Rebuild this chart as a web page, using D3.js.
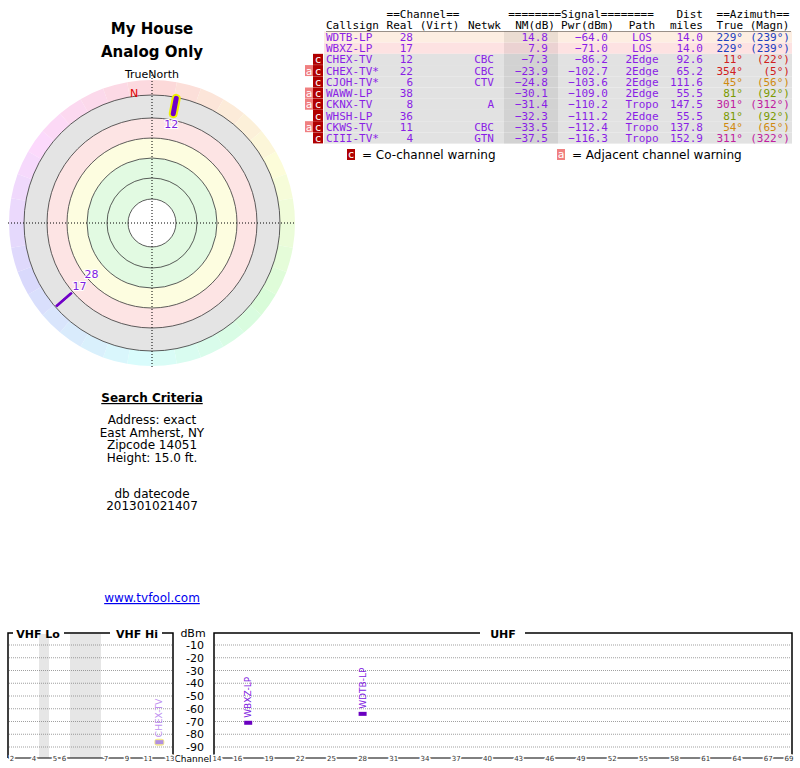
<!DOCTYPE html>
<html><head><meta charset="utf-8">
<script src="https://cdn.jsdelivr.net/npm/d3@7"></script>
<style>
body{margin:0;background:#fff}
svg text{font-family:"DejaVu Sans",sans-serif}
.mono{font-family:"DejaVu Sans Mono",monospace;font-size:11px}
</style></head><body>
<svg id="chart" width="800" height="768"></svg>
<script>
// station table
const callsigns = ["WDTB-LP","WBXZ-LP","CHEX-TV","CHEX-TV*","CJOH-TV*","WAWW-LP","CKNX-TV","WHSH-LP","CKWS-TV","CIII-TV*"];
const realCh = [28,17,12,22,6,38,8,36,11,4];
const networks = ["","","CBC","CBC","CTV","","A","","CBC","GTN"];
const nmDb = [14.8,7.9,-7.3,-23.9,-24.8,-30.1,-31.4,-32.3,-33.5,-37.5];
const pwrDbm = [-64.0,-71.0,-86.2,-102.7,-103.6,-109.0,-110.2,-111.2,-112.4,-116.3];
const paths = ["LOS","LOS","2Edge","2Edge","2Edge","2Edge","Tropo","2Edge","Tropo","Tropo"];
const distMiles = [14.0,14.0,92.6,65.2,111.6,55.5,147.5,55.5,137.8,152.9];
const azTrue = [229,229,11,354,45,81,301,81,54,311];
const azMagn = [239,239,22,5,56,92,312,92,65,322];
const coWarn = [false,false,true,true,true,true,true,true,true,true];
const adjWarn = [false,false,false,true,false,true,true,false,true,false];
const rowFills = ["#fdeee2","#fde2e2","#e2e2e2","#e2e2e2","#e2e2e2","#e2e2e2","#e2e2e2","#e2e2e2","#e2e2e2","#e2e2e2"];

// spectrum
const dbmTicks = [-10,-20,-30,-40,-50,-60,-70,-80,-90];
const vhfTicks = ["2","4","5","6","7","9","11","13"];
const uhfTicks = [14,16,19,22,25,28,31,34,37,40,43,46,49,52,55,58,61,64,67,69];
const criteria = ["Address: exact","East Amherst, NY","Zipcode 14051","Height: 15.0 ft."];

const svg = d3.select("#chart");

// colour per azimuth
function azColor(a){
  if (a>=200 && a<260) return "#2040c0";
  if (a>=340 || a<30) return "#d02020";
  if (a<70) return "#d08a10";
  if (a<150) return "#7a9a00";
  return "#c020a0";
}

// ---------- titles ----------
svg.append("text").attr("x",152).attr("y",34).attr("text-anchor","middle")
  .attr("font-size",15).attr("font-weight","bold").text("My House");
svg.append("text").attr("x",152).attr("y",57).attr("text-anchor","middle")
  .attr("font-size",15).attr("font-weight","bold").text("Analog Only");
svg.append("text").attr("x",152).attr("y",78).attr("text-anchor","middle")
  .attr("font-size",11).text("TrueNorth");

// ---------- polar plot ----------
const cx=152, cy=223;
const polar = svg.append("g").attr("transform",`translate(${cx},${cy})`);
const arc = d3.arc();
for (let a=0;a<360;a+=10){
  polar.append("path").attr("d",arc({innerRadius:128,outerRadius:143,
    startAngle:a*Math.PI/180,endAngle:(a+10)*Math.PI/180}))
    .attr("fill",d3.hsl(a,0.85,0.92));
}
const bands=[[105,128,"#e4e4e4"],[85,105,"#fde4e4"],[65,85,"#fdfde0"],[24,65,"#e2fae2"]];
bands.forEach(b=>polar.append("path").attr("d",arc({innerRadius:b[0],outerRadius:b[1],startAngle:0,endAngle:2*Math.PI})).attr("fill",b[2]));
[24,45,65,85,105,128].forEach(r=>polar.append("circle").attr("r",r).attr("fill","none").attr("stroke","#333").attr("stroke-width",0.8));
polar.append("line").attr("x1",-144).attr("x2",144).attr("stroke","#000").attr("stroke-dasharray","1,2");
polar.append("line").attr("y1",-151).attr("y2",146).attr("stroke","#000").attr("stroke-dasharray","1,2");
polar.append("text").attr("x",-22).attr("y",-126).attr("fill","#e00000").attr("font-size",11).text("N");

const rScale = d3.scaleLinear().domain([-10,15]).range([112,106]);
const shown = d3.range(3);
shown.forEach(i=>{
  const ang=(azTrue[i]-90)*Math.PI/180;
  const r0=127, r1=rScale(nmDb[i]);
  const p=r=>[r*Math.cos(ang),r*Math.sin(ang)];
  const [x0,y0]=p(r0),[x1,y1]=p(r1);
  if (i===2){
    polar.append("line").attr("x1",x0).attr("y1",y0).attr("x2",x1).attr("y2",y1)
      .attr("stroke","#f0f000").attr("stroke-width",9).attr("stroke-linecap","round");
  }
  polar.append("line").attr("x1",x0).attr("y1",y0).attr("x2",x1).attr("y2",y1)
    .attr("stroke","#7000c8").attr("stroke-width",i===2?5:2.5).attr("stroke-linecap",i===2?"round":"butt");
});
// label radius and small offsets so 17 and 28 do not collide
[[2,101,0,4],[0,96,12,-8],[1,96,0,4]].forEach(([i,r,dx,dy])=>{
  const ang=(azTrue[i]-90)*Math.PI/180;
  polar.append("text").attr("x",r*Math.cos(ang)+dx).attr("y",r*Math.sin(ang)+dy)
    .attr("text-anchor","middle").attr("font-size",11).attr("fill","#8020e0")
    .attr("stroke","#fff").attr("stroke-width",2).attr("paint-order","stroke").text(realCh[i]);
});

// ---------- search criteria ----------
svg.append("text").attr("x",152).attr("y",402).attr("text-anchor","middle").attr("font-size",12)
  .attr("font-weight","bold").attr("text-decoration","underline").text("Search Criteria");
criteria.forEach((t,i)=>svg.append("text").attr("x",152).attr("y",424+i*12.7).attr("text-anchor","middle").attr("font-size",12).text(t));
svg.append("text").attr("x",152).attr("y",498).attr("text-anchor","middle").attr("font-size",12).text("db datecode");
svg.append("text").attr("x",152).attr("y",510).attr("text-anchor","middle").attr("font-size",12).text("201301021407");
svg.append("text").attr("x",152).attr("y",602).attr("text-anchor","middle").attr("font-size",12)
  .attr("fill","#0000ee").attr("text-decoration","underline").text("www.tvfool.com");

// ---------- table ----------
const tbl = svg.append("g").attr("class","mono");
const rowY = d3.scaleLinear().domain([0,9]).range([37,138]);
const t = (x,y,s,anchor,fill)=>tbl.append("text").attr("class","mono").attr("x",x).attr("y",y)
  .attr("text-anchor",anchor||"start").attr("fill",fill||"#000").text(s);
t(423,18,"==Channel==","middle","#000").attr("font-size",10.5);
t(581,18,"========Signal========","middle").attr("font-size",10.5);
t(703,18,"Dist","end");
t(753,18,"==Azimuth==","middle").attr("font-size",10.5);
t(326,29,"Callsign"); t(423,29,"Real (Virt)","middle"); t(501,29,"Netwk","end");
t(555,29,"NM(dB)","end"); t(614,29,"Pwr(dBm)","end"); t(642,29,"Path","middle");
t(703,29,"miles","end"); t(753,29,"True (Magn)","middle");
tbl.append("line").attr("x1",326).attr("x2",791).attr("y1",31.5).attr("y2",31.5).attr("stroke","#000");
callsigns.forEach((c,i)=>{
  const y=rowY(i);
  tbl.append("rect").attr("x",324).attr("y",y-5.6).attr("width",468).attr("height",11.2).attr("fill",rowFills[i]);
  tbl.append("rect").attr("x",504).attr("y",y-5.6).attr("width",54).attr("height",11.2).attr("fill","#000").attr("opacity",0.07);
  if (coWarn[i]){
    tbl.append("rect").attr("x",313).attr("y",y-5.6).attr("width",10).attr("height",11).attr("fill","#b00000");
    t(318,y+4,"c","middle","#fff");
  }
  if (adjWarn[i]){
    tbl.append("rect").attr("x",305).attr("y",y-5.6).attr("width",8).attr("height",11).attr("fill","#f08080");
    t(309,y+4,"a","middle","#fff");
  }
  const p="#8a1ee6";
  t(326,y+4,c,"start",p);
  t(413,y+4,realCh[i],"end",p);
  t(494,y+4,networks[i],"end",p);
  t(548,y+4,nmDb[i].toFixed(1).replace("-","\u2212"),"end",p);
  t(608,y+4,pwrDbm[i].toFixed(1).replace("-","\u2212"),"end",p);
  t(642,y+4,paths[i],"middle",p);
  t(703,y+4,distMiles[i].toFixed(1),"end",p);
  t(743,y+4,azTrue[i]+"°","end",azColor(azTrue[i]));
  t(790,y+4,"("+azMagn[i]+"°)","end",azColor(azTrue[i]));
});
tbl.append("rect").attr("x",347).attr("y",149).attr("width",8).attr("height",11).attr("fill","#b00000");
t(351,158,"c","middle","#fff");
svg.append("text").attr("x",362).attr("y",159).attr("font-size",12).text("= Co-channel warning");
tbl.append("rect").attr("x",557).attr("y",149).attr("width",8).attr("height",11).attr("fill","#f08080");
t(561,158,"a","middle","#fff");
svg.append("text").attr("x",572).attr("y",159).attr("font-size",12).text("= Adjacent channel warning");

// ---------- spectrum ----------
const yDb = d3.scaleLinear().domain([-10,-90]).range([645,747]);
const spec = svg.append("g");
const vhfX = d3.scaleOrdinal().domain(vhfTicks).range([12,34,55,64,106,127,148,170]);
const vhfLoX = d3.scaleLinear().domain([2,4]).range([12,34]);
const vhfHiX = d3.scaleLinear().domain([7,13]).range([106,170]);
const uhfX = d3.scaleLinear().domain([14,69]).range([217,789]);
spec.append("rect").attr("x",39).attr("y",634).attr("width",10).attr("height",124).attr("fill","#e6e6e6");
spec.append("rect").attr("x",70).attr("y",634).attr("width",31).attr("height",124).attr("fill","#e6e6e6");
const grid=(x1,x2)=>dbmTicks.forEach(d=>spec.append("line").attr("x1",x1).attr("x2",x2)
  .attr("y1",yDb(d)).attr("y2",yDb(d)).attr("stroke","#777").attr("stroke-dasharray","1,1").attr("stroke-width",0.7));
grid(9,172); grid(215,791);
spec.append("path").attr("d","M8,758V633H13M64,633H110M162,633H173V758").attr("fill","none").attr("stroke","#000").attr("stroke-width",1.5);
spec.append("path").attr("d","M214,758V633H480M525,633H792V758").attr("fill","none").attr("stroke","#000").attr("stroke-width",1.5);
spec.append("text").attr("x",38).attr("y",638).attr("text-anchor","middle").attr("font-size",11).attr("font-weight","bold").text("VHF Lo");
spec.append("text").attr("x",137).attr("y",638).attr("text-anchor","middle").attr("font-size",11).attr("font-weight","bold").text("VHF Hi");
spec.append("text").attr("x",503).attr("y",638).attr("text-anchor","middle").attr("font-size",11).attr("font-weight","bold").text("UHF");
spec.append("text").attr("x",193).attr("y",637).attr("text-anchor","middle").attr("font-size",11).text("dBm");
dbmTicks.forEach(d=>spec.append("text").attr("x",204).attr("y",yDb(d)+4).attr("text-anchor","end").attr("font-size",11).text(d));
spec.append("text").attr("x",193).attr("y",762).attr("text-anchor","middle").attr("font-size",9).text("Channel");
spec.append("line").attr("x1",8).attr("x2",173).attr("y1",758).attr("y2",758).attr("stroke","#000");
spec.append("line").attr("x1",214).attr("x2",792).attr("y1",758).attr("y2",758).attr("stroke","#000");
vhfTicks.forEach(c=>spec.append("text").attr("x",vhfX(c)).attr("y",761).attr("text-anchor","middle")
  .attr("font-size",7).attr("fill","#333").attr("stroke","#fff").attr("stroke-width",3).attr("paint-order","stroke").text(c));
uhfTicks.forEach(c=>spec.append("text").attr("x",uhfX(c)).attr("y",761).attr("text-anchor","middle")
  .attr("font-size",7).attr("fill","#333").attr("stroke","#fff").attr("stroke-width",3).attr("paint-order","stroke").text(c));
shown.forEach(i=>{
  const ch=realCh[i];
  const x = ch>=14 ? uhfX(ch) : (ch>=7 ? vhfHiX(ch) : vhfLoX(ch));
  const y = yDb(pwrDbm[i]);
  const weak = nmDb[i]<0;
  if (weak) spec.append("rect").attr("x",x-5).attr("y",y-3.5).attr("width",10).attr("height",7).attr("rx",3).attr("fill","#f4e890");
  spec.append("rect").attr("x",x-4).attr("y",y-2).attr("width",8).attr("height",4)
    .attr("fill",weak?"#b090e0":"#6a00c0");
  spec.append("text").attr("transform",`translate(${x+3},${y-5}) rotate(-90)`)
    .attr("font-size",9).attr("fill",weak?"#c090f0":"#8020e0").text(callsigns[i]);
});
</script></body></html>
